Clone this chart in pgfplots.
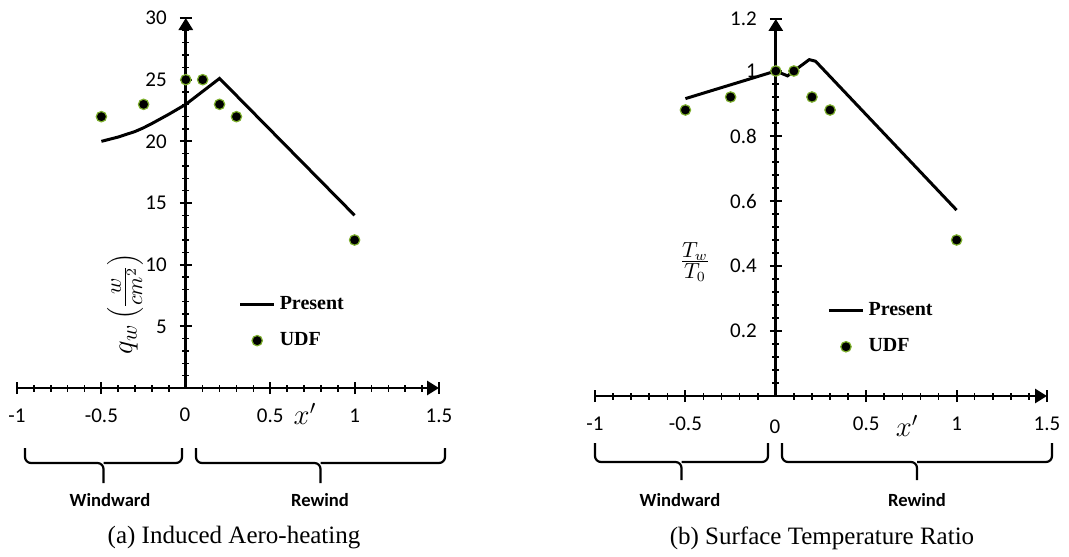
\documentclass[border=0pt]{standalone}
\usepackage{fontspec}
\setmainfont{Liberation Serif}
\newfontfamily\calibri{Carlito}
\usepackage{pgfplots}
\pgfplotsset{compat=1.18}
\usetikzlibrary{arrows.meta}

\definecolor{ring}{RGB}{125,175,45}

\pgfplotsset{
  figstyle/.style={
    scale only axis,
    axis lines=middle,
    axis line style={line width=1.4pt, -{Triangle[length=6pt,width=7pt]}},
    tick align=center,
    major tick length=6pt,
    minor tick length=3.5pt,
    major tick style={black, line width=1pt},
    minor tick style={black, line width=0.8pt},
    minor x tick num=4,
    minor y tick num=4,
    tick label style={font=\calibri\fontsize{10.5}{12}\selectfont},
    /pgf/number format/assume math mode=true,
    xtick={-1,-0.5,0,0.5,1,1.5},
    xticklabel style={yshift=-4pt},
    yticklabel style={xshift=-3pt},
    clip=false,
    legend cell align=left,
    legend style={draw=none, fill=none, row sep=6pt,
      font=\bfseries\fontsize{10}{12}\selectfont},
  },
  udf/.style={only marks, mark=*, mark size=2.6pt,
    mark options={fill=black, draw=ring, line width=0.6pt}},
  present/.style={black, line width=1.5pt, mark=none},
}

% brace in pixel units (1 px = 0.5pt, y downwards)
\newcommand\sbrace[5]{%
  \draw[line width=1.1pt, rounded corners=3pt]
    ({#1*0.5pt},{-#3*0.5pt}) -- ({#1*0.5pt},{-#4*0.5pt})
    -- ({(#1+#2)*0.25pt},{-#4*0.5pt}) -- ({(#1+#2)*0.25pt},{-#5*0.5pt});
  \draw[line width=1.1pt, rounded corners=3pt]
    ({(#1+#2)*0.25pt},{-#4*0.5pt}) -- ({#2*0.5pt},{-#4*0.5pt})
    -- ({#2*0.5pt},{-#3*0.5pt});}

\begin{document}
\begin{tikzpicture}
\useasboundingbox (0,0) rectangle (534.5pt,-278pt);

% (a) heat flux
\begin{axis}[figstyle, at={(8.5pt,-194pt)}, anchor=south west,
    width=211pt, height=185pt,
    xmin=-1, xmax=1.5, ymin=0, ymax=30,
    ytick={0,5,10,15,20,25,30},
    legend style={at={(0.51,0.27)}, anchor=north west}]
  \addplot[present] coordinates {
    (-0.5,20) (-0.4,20.35) (-0.3,20.8) (-0.25,21.1) (-0.2,21.45)
    (-0.1,22.2) (0,23) (0.2,25.1) (1,14)};
  \addlegendentry{Present}
  \addplot[udf] coordinates {
    (-0.5,22) (-0.25,23) (0,25) (0.1,25) (0.2,23) (0.3,22) (1,12)};
  \addlegendentry{UDF}
\end{axis}

% (b) temperature ratio
\begin{axis}[figstyle, at={(297.5pt,-198pt)}, anchor=south west,
    width=226pt, height=188.5pt,
    xmin=-1, xmax=1.5, ymin=0, ymax=1.16,
    ytick={0,0.2,0.4,0.6,0.8,1},
    extra y ticks={1.16}, extra y tick labels={1.2},
    legend style={at={(0.5,0.27)}, anchor=north west}]
  \addplot[present] coordinates {
    (-0.5,0.915) (0,1.0) (0.065,0.985) (0.1,1.0) (0.185,1.035)
    (0.22,1.03) (1,0.572)};
  \addlegendentry{Present}
  \addplot[udf] coordinates {
    (-0.5,0.88) (-0.25,0.92) (0,1.0) (0.1,1.0) (0.2,0.92) (0.3,0.88) (1,0.48)};
  \addlegendentry{UDF}
\end{axis}

% axis labels
\node[rotate=90, font=\fontsize{15}{17}\selectfont] at (62.5pt,-152pt) {$q_w\left(\frac{w}{cm^2}\right)$};
\node[font=\fontsize{14}{16}\selectfont] at (152.5pt,-207pt) {$x'$};
\node[font=\fontsize{15}{17}\selectfont] at (347.5pt,-131pt) {$\frac{T_w}{T_0}$};
\node[font=\fontsize{14}{16}\selectfont] at (453.5pt,-213pt) {$x'$};
\node[font=\calibri\fontsize{10.5}{12}\selectfont] at (92.5pt,-207.5pt) {0};
\node[font=\calibri\fontsize{10.5}{12}\selectfont] at (387.5pt,-213.5pt) {0};

% region braces
\sbrace{25}{182}{448}{463}{483}
\sbrace{196}{445}{448}{463}{483}
\sbrace{595}{768}{443}{462}{480}
\sbrace{782}{1052}{443}{462}{480}
\begin{scope}[font=\calibri\bfseries\fontsize{9.3}{11}\selectfont]
  \node at (55pt,-250pt) {Windward};
  \node at (160pt,-250pt) {Rewind};
  \node at (340pt,-250pt) {Windward};
  \node at (458.5pt,-250pt) {Rewind};
\end{scope}

% captions
\node[font=\fontsize{12.5}{14}\selectfont] at (117pt,-269pt) {(a) Induced Aero-heating};
\node[font=\fontsize{12.5}{14}\selectfont] at (411pt,-269pt) {(b) Surface Temperature Ratio};
\end{tikzpicture}
\end{document}
